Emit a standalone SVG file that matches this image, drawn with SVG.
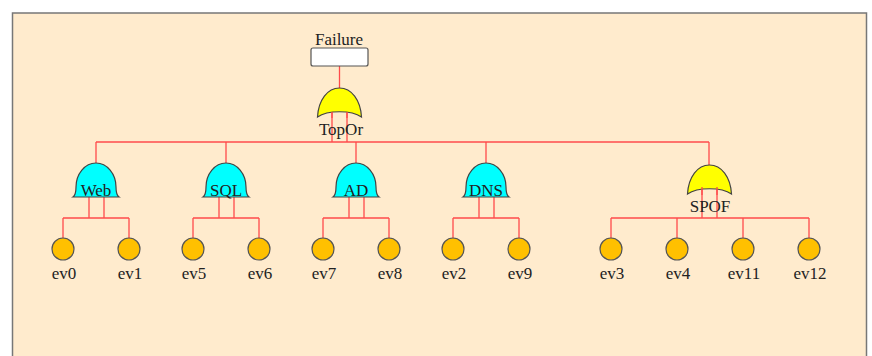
<svg xmlns="http://www.w3.org/2000/svg" width="872" height="356" viewBox="0 0 872 356">
<style>
text{font-family:"Liberation Serif","Times New Roman",serif;font-size:17px;fill:#222;text-anchor:middle}
.w{stroke:#FF4B4B;stroke-width:1.3;fill:none}
.and{fill:#00FFFF;stroke:#444;stroke-width:1.2}
.or{fill:#FFFF00;stroke:#444;stroke-width:1.2}
.ev{fill:#FFC000;stroke:#555;stroke-width:1.2}
</style>
<defs>
<path id="andg" d="M-23,0 Q-20,-2 -20,-10 A20,24 0 0 1 20,-10 Q20,-2 23,0 Z"/>
<path id="org" d="M-22,29 C-21,12 -12,0 0,0 C12,0 21,12 22,29 C12,22 -12,22 -22,29 Z"/>
</defs>
<rect x="0" y="0" width="872" height="356" fill="#fff"/>
<rect x="12.5" y="13" width="854" height="345" fill="#FFEBCD" stroke="#777" stroke-width="1.5"/>
<g id="connectors" class="w">
<path d="M339.5,66 V88"/>
<path d="M332,112 V142 M347,112 V142"/>
<path d="M96,142 H709"/>
<path d="M96,142 V163 M226,142 V163 M356,142 V163 M486,142 V163 M709,142 V165"/>
<path d="M89,197 V218 M104,197 V218 M63,218 H129 M63,218 V238 M129,218 V238"/>
<path d="M219,197 V218 M234,197 V218 M193,218 H259 M193,218 V238 M259,218 V238"/>
<path d="M349,197 V218 M364,197 V218 M323,218 H389 M323,218 V238 M389,218 V238"/>
<path d="M479,197 V218 M494,197 V218 M453,218 H519 M453,218 V238 M519,218 V238"/>
<path d="M702,187 V218 M717,187 V218 M611,218 H809 M611,218 V238 M677,218 V238 M743,218 V238 M809,218 V238"/>
</g>
<g id="Failure">
<rect x="311" y="48" width="57" height="18" rx="2" fill="#fff" stroke="#555" stroke-width="1.2"/>
<text x="339" y="45">Failure</text>
</g>
<g id="TopOr">
<use href="#org" class="or" transform="translate(339.5,88)"/>
<path class="w" d="M332,112 V118 M347,112 V118"/>
<text x="341" y="135">TopOr</text>
</g>
<g id="Web">
<use href="#andg" class="and" transform="translate(96,197)"/>
<text x="96" y="196">Web</text>
</g>
<g id="SQL">
<use href="#andg" class="and" transform="translate(226,197)"/>
<text x="226" y="196">SQL</text>
</g>
<g id="AD">
<use href="#andg" class="and" transform="translate(356,197)"/>
<text x="356" y="196">AD</text>
</g>
<g id="DNS">
<use href="#andg" class="and" transform="translate(486,197)"/>
<text x="486" y="196">DNS</text>
</g>
<g id="SPOF">
<use href="#org" class="or" transform="translate(709.5,165)"/>
<path class="w" d="M702,187 V195 M717,187 V195"/>
<text x="710" y="212">SPOF</text>
</g>
<g id="ev0"><circle class="ev" cx="63" cy="249" r="11"/><text x="64" y="279">ev0</text></g>
<g id="ev1"><circle class="ev" cx="129" cy="249" r="11"/><text x="130" y="279">ev1</text></g>
<g id="ev5"><circle class="ev" cx="193" cy="249" r="11"/><text x="194" y="279">ev5</text></g>
<g id="ev6"><circle class="ev" cx="259" cy="249" r="11"/><text x="260" y="279">ev6</text></g>
<g id="ev7"><circle class="ev" cx="323" cy="249" r="11"/><text x="324" y="279">ev7</text></g>
<g id="ev8"><circle class="ev" cx="389" cy="249" r="11"/><text x="390" y="279">ev8</text></g>
<g id="ev2"><circle class="ev" cx="453" cy="249" r="11"/><text x="454" y="279">ev2</text></g>
<g id="ev9"><circle class="ev" cx="519" cy="249" r="11"/><text x="520" y="279">ev9</text></g>
<g id="ev3"><circle class="ev" cx="611" cy="249" r="11"/><text x="612" y="279">ev3</text></g>
<g id="ev4"><circle class="ev" cx="677" cy="249" r="11"/><text x="678" y="279">ev4</text></g>
<g id="ev11"><circle class="ev" cx="743" cy="249" r="11"/><text x="744" y="279">ev11</text></g>
<g id="ev12"><circle class="ev" cx="809" cy="249" r="11"/><text x="810" y="279">ev12</text></g>
</svg>
